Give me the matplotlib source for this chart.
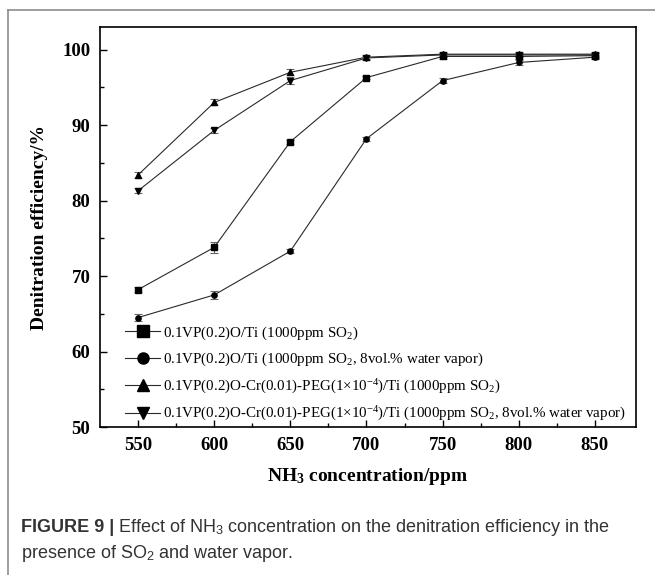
import matplotlib
matplotlib.use("Agg")
import matplotlib.pyplot as plt
from matplotlib.lines import Line2D

plt.rcParams["font.family"] = ["Liberation Serif", "DejaVu Serif"]
plt.rcParams["mathtext.fontset"] = "custom"
plt.rcParams["mathtext.rm"] = "Liberation Serif"
plt.rcParams["mathtext.it"] = "Liberation Serif:italic"
plt.rcParams["mathtext.bf"] = "Liberation Serif:bold"
plt.rcParams["mathtext.sf"] = "Liberation Sans"

# NH3 concentration (ppm)
nh3 = [550, 600, 650, 700, 750, 800, 850]

# Denitration efficiency (%) and error for each catalyst / gas condition
vpo_so2 = [68.2, 73.8, 87.8, 96.3, 99.1, 99.1, 99.2]
vpo_so2_err = [0.3, 0.7, 0.25, 0.25, 0.3, 0.3, 0.3]
vpo_so2_h2o = [64.5, 67.5, 73.3, 88.2, 95.9, 98.3, 99.0]
vpo_so2_h2o_err = [0.5, 0.5, 0.25, 0.25, 0.3, 0.3, 0.3]
cr_peg_so2 = [83.4, 93.0, 97.0, 99.0, 99.4, 99.4, 99.4]
cr_peg_so2_err = [0.35, 0.4, 0.4, 0.3, 0.3, 0.3, 0.3]
cr_peg_so2_h2o = [81.3, 89.3, 95.9, 98.9, 99.3, 99.3, 99.3]
cr_peg_so2_h2o_err = [0.35, 0.3, 0.5, 0.3, 0.3, 0.3, 0.3]

labels = [
    r"0.1VP(0.2)O/Ti (1000ppm SO$_2$)",
    r"0.1VP(0.2)O/Ti (1000ppm SO$_2$, 8vol.% water vapor)",
    r"0.1VP(0.2)O-Cr(0.01)-PEG(1×10$^{-4}$)/Ti (1000ppm SO$_2$)",
    r"0.1VP(0.2)O-Cr(0.01)-PEG(1×10$^{-4}$)/Ti (1000ppm SO$_2$, 8vol.% water vapor)",
]
markers = ["s", "o", "^", "v"]
msizes = [3.8, 3.8, 4.8, 4.8]
series = [
    (vpo_so2, vpo_so2_err),
    (vpo_so2_h2o, vpo_so2_h2o_err),
    (cr_peg_so2, cr_peg_so2_err),
    (cr_peg_so2_h2o, cr_peg_so2_h2o_err),
]

fig = plt.figure(figsize=(6.55, 5.75), dpi=100)
ax = fig.add_axes([100 / 655, 1 - 427 / 575, 536 / 655, 400 / 575])

for (vals, errs), m, ms in zip(series, markers, msizes):
    ax.errorbar(nh3, vals, yerr=errs, color="#2a2a2a", ecolor="#666666",
                elinewidth=0.8, capsize=3, capthick=0.8, lw=0.8,
                marker=m, ms=ms, mfc="black", mec="black", zorder=3)

ax.set_xlim(525, 877)
ax.set_ylim(50, 103)
ax.set_xticks(nh3)
ax.set_xticks([575, 625, 675, 725, 775, 825], minor=True)
ax.set_yticks([50, 60, 70, 80, 90, 100])
ax.set_yticks([55, 65, 75, 85, 95], minor=True)
ax.tick_params(which="both", direction="in", width=1.0)
ax.tick_params(which="major", length=5, labelsize=13.5, pad=7)
ax.tick_params(which="minor", length=3)
for lab in ax.get_xticklabels() + ax.get_yticklabels():
    lab.set_fontweight("bold")
for sp in ax.spines.values():
    sp.set_linewidth(1.2)

ax.set_xlabel(r"NH$_\mathbf{3}$ concentration/ppm", fontsize=14,
              fontweight="bold", labelpad=9)
ax.set_ylabel("Denitration efficiency/%", fontsize=14, fontweight="bold",
              labelpad=10)

handles = [Line2D([], [], color="#2a2a2a", lw=0.8, marker=m, ms=8,
                  mfc="black", mec="black") for m in markers]
ax.legend(handles, labels, loc="upper left", bbox_to_anchor=(0.036, 0.272),
          frameon=False, fontsize=10.8, handlelength=2.3, handletextpad=0.2,
          labelspacing=0.62, borderaxespad=0)

# Figure caption and outer frame
fig.add_artist(Line2D([8 / 655, 1], [1 - 10 / 575] * 2, color="#8c8c8c",
                      lw=1.2, transform=fig.transFigure))
fig.add_artist(Line2D([8 / 655] * 2, [0, 1 - 10 / 575], color="#8c8c8c",
                      lw=1.2, transform=fig.transFigure))

cap_kw = dict(fontsize=13, color="#333333", family=["Liberation Sans", "DejaVu Sans"])
t1 = fig.text(21 / 655, 1 - 528 / 575, "FIGURE 9 |", fontweight="bold",
              va="center", ha="left", **cap_kw)
fig.canvas.draw()
bb = t1.get_window_extent()
fig.text((bb.x1 + 4) / 655, 1 - 528 / 575,
         r"Effect of NH$_\mathsf{3}$ concentration on the denitration efficiency in the",
         va="center", ha="left", **cap_kw)
fig.text(21 / 655, 1 - 553 / 575,
         r"presence of SO$_\mathsf{2}$ and water vapor.",
         va="center", ha="left", **cap_kw)

fig.savefig("out.png", dpi=100)
